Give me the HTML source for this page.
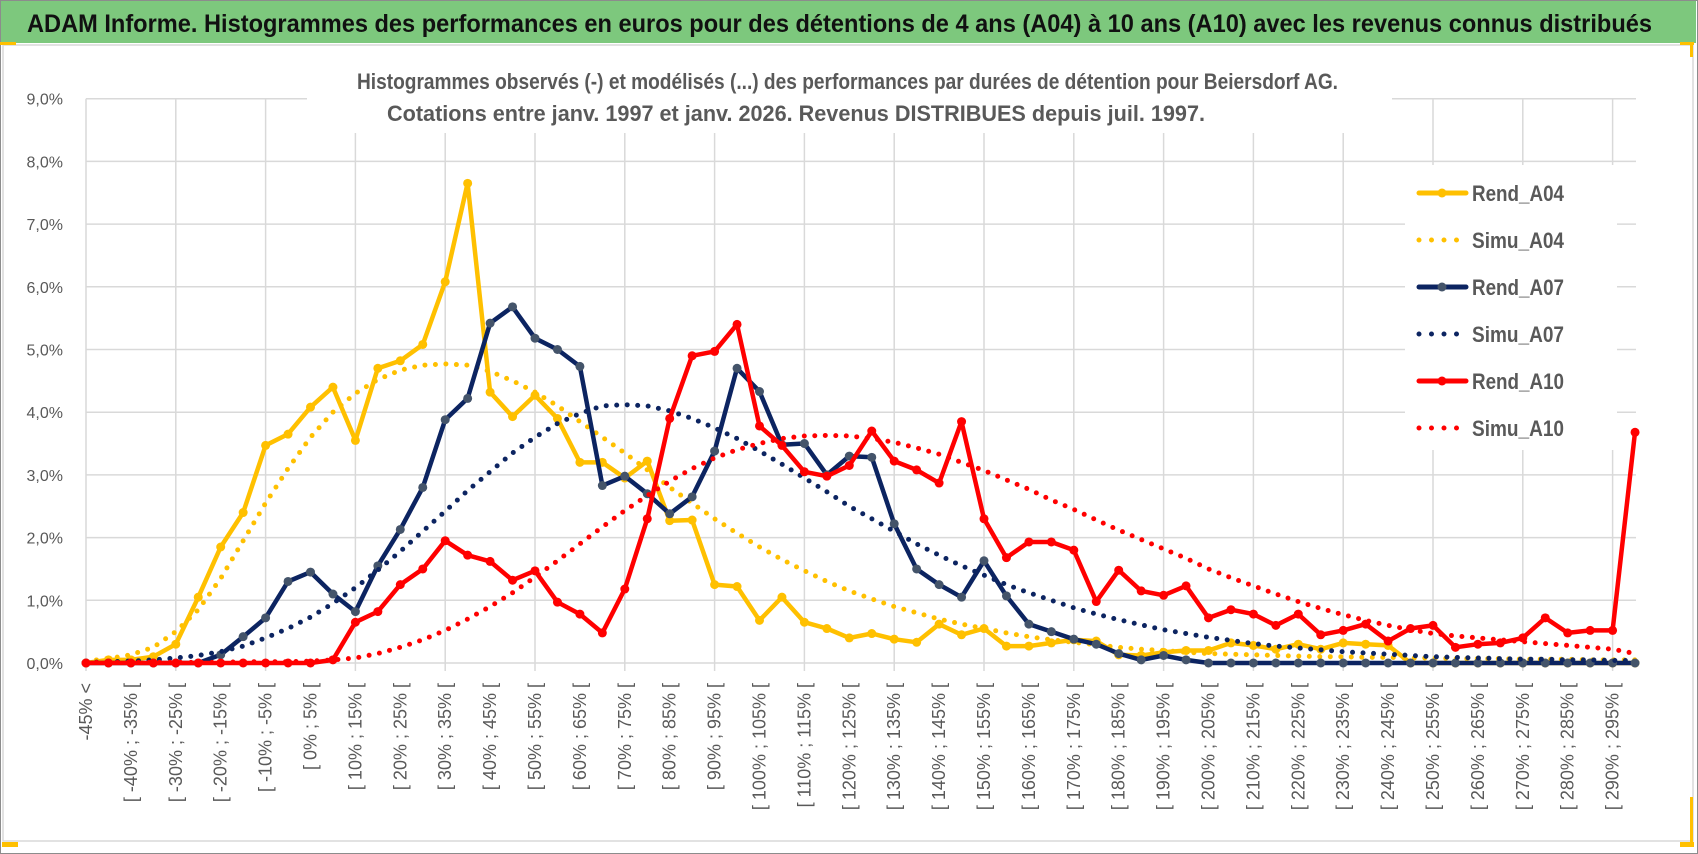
<!DOCTYPE html>
<html><head><meta charset="utf-8"><style>
html,body{margin:0;padding:0;background:#fff;}
svg{display:block;font-family:"Liberation Sans",sans-serif;}
</style></head><body>
<svg id="chart" width="1698" height="854" viewBox="0 0 1698 854" xmlns="http://www.w3.org/2000/svg">
<rect x="0.5" y="0.5" width="1697" height="853" fill="#fff" stroke="#8c8c8c"/>
<rect x="1" y="1" width="1695" height="42" fill="#7dc87d"/>
<text x="27" y="32" font-size="25" font-weight="bold" fill="#111" textLength="1625" lengthAdjust="spacingAndGlyphs">ADAM Informe. Histogrammes des performances en euros pour des détentions de 4 ans (A04) à 10 ans (A10) avec les revenus connus distribués</text>
<rect x="3" y="45" width="1690" height="796" fill="none" stroke="#d9d9d9" stroke-width="1.5"/>
<rect x="0" y="42" width="16" height="3" fill="#ffc000"/>
<rect x="1680" y="42" width="14" height="3" fill="#ffc000"/>
<rect x="1690" y="45" width="3" height="12" fill="#ffc000"/>
<rect x="1690" y="797" width="3" height="50" fill="#ffc000"/>
<rect x="1680" y="842" width="14" height="5" fill="#ffc000"/>
<rect x="2" y="842" width="16" height="5" fill="#ffc000"/>
<g id="grid"></g>
<g id="series"></g>
<g id="axes"></g>
<rect x="307" y="58" width="1085" height="75" fill="#fff"/>
<text x="357" y="89" font-size="22" font-weight="bold" fill="#595959" textLength="981" lengthAdjust="spacingAndGlyphs">Histogrammes observés (-) et modélisés (...) des performances par durées de détention pour Beiersdorf AG.</text>
<text x="387" y="121" font-size="22" font-weight="bold" fill="#595959" textLength="818" lengthAdjust="spacingAndGlyphs">Cotations entre janv. 1997 et janv. 2026. Revenus DISTRIBUES depuis juil. 1997.</text>
<g id="legend"></g>
</svg>
<script>
const categoriesCount = 70;
const yTicks = ["0,0%","1,0%","2,0%","3,0%","4,0%","5,0%","6,0%","7,0%","8,0%","9,0%"];
const rendA04 = [0,0.05,0.05,0.1,0.3,1.05,1.85,2.4,3.47,3.65,4.08,4.4,3.55,4.7,4.82,5.08,6.08,7.65,4.32,3.93,4.27,3.9,3.2,3.2,2.95,3.22,2.27,2.28,1.25,1.22,0.68,1.05,0.65,0.55,0.4,0.47,0.38,0.33,0.62,0.45,0.55,0.27,0.27,0.32,0.37,0.35,0.13,0.12,0.17,0.2,0.2,0.32,0.28,0.22,0.3,0.22,0.32,0.3,0.28,0,0,0,0,0,0,0,0,0,0,0];
const simuA04 = [0.03,0.07,0.13,0.25,0.5,0.85,1.35,1.95,2.55,3.1,3.6,4.0,4.3,4.52,4.67,4.75,4.77,4.75,4.65,4.5,4.32,4.1,3.85,3.6,3.35,3.08,2.8,2.55,2.3,2.07,1.85,1.65,1.47,1.3,1.15,1.02,0.9,0.8,0.7,0.62,0.55,0.48,0.42,0.37,0.33,0.29,0.25,0.22,0.2,0.17,0.15,0.14,0.13,0.12,0.11,0.1,0.1,0.09,0.09,0.08,0.08,0.07,0.07,0.07,0.06,0.06,0.06,0.05,0.05,0.05];
const rendA07 = [0,0,0,0,0,0,0.13,0.42,0.72,1.3,1.45,1.1,0.82,1.55,2.13,2.8,3.88,4.22,5.42,5.68,5.18,5.0,4.73,2.83,2.98,2.7,2.38,2.65,3.38,4.7,4.33,3.48,3.5,3.0,3.3,3.28,2.22,1.5,1.25,1.05,1.63,1.07,0.62,0.5,0.38,0.3,0.15,0.05,0.12,0.05,0,0,0,0,0,0,0,0,0,0,0,0,0,0,0,0,0,0,0,0];
const simuA07 = [0.01,0.02,0.03,0.05,0.08,0.12,0.18,0.27,0.4,0.55,0.73,0.95,1.2,1.48,1.78,2.1,2.42,2.75,3.05,3.35,3.6,3.82,3.98,4.1,4.12,4.1,4.02,3.9,3.75,3.58,3.38,3.17,2.95,2.73,2.5,2.3,2.1,1.9,1.72,1.55,1.4,1.25,1.12,1.0,0.88,0.78,0.69,0.61,0.53,0.47,0.41,0.36,0.31,0.27,0.24,0.21,0.18,0.16,0.14,0.12,0.1,0.09,0.08,0.07,0.06,0.06,0.05,0.05,0.04,0.04];
const rendA10 = [0,0,0,0,0,0,0,0,0,0,0,0.05,0.65,0.82,1.25,1.5,1.95,1.72,1.62,1.32,1.47,0.97,0.78,0.48,1.18,2.3,3.9,4.9,4.97,5.4,3.78,3.47,3.05,2.98,3.15,3.7,3.22,3.08,2.87,3.85,2.3,1.68,1.93,1.93,1.8,0.98,1.48,1.15,1.08,1.23,0.72,0.85,0.78,0.6,0.78,0.45,0.52,0.62,0.35,0.55,0.6,0.25,0.3,0.32,0.4,0.72,0.48,0.52,0.52,3.68];
const simuA10 = [0.01,0.01,0.01,0.01,0.01,0.01,0.01,0.02,0.02,0.02,0.03,0.05,0.08,0.15,0.25,0.37,0.52,0.7,0.9,1.12,1.37,1.63,1.9,2.17,2.43,2.67,2.9,3.1,3.27,3.4,3.5,3.58,3.62,3.63,3.62,3.58,3.52,3.43,3.33,3.2,3.07,2.92,2.77,2.6,2.45,2.28,2.12,1.97,1.82,1.67,1.5,1.36,1.23,1.1,0.98,0.87,0.77,0.68,0.6,0.53,0.47,0.43,0.4,0.37,0.34,0.31,0.28,0.25,0.22,0.15];

const NS = "http://www.w3.org/2000/svg";
const X0 = 86, DX = 22.45, Y0 = 663, DY = 62.7, XR = 1636;
function xs(i){ return X0 + i*DX; }
function ys(v){ return Y0 - v*DY; }
function mk(tag, attrs, parent){ const e=document.createElementNS(NS,tag); for(const k in attrs) e.setAttribute(k,attrs[k]); parent.appendChild(e); return e; }
function catLabel(i){ if(i===0) return "-45% <"; const a=-50+5*i; return "[ "+a+"% ; "+(a+5)+"% ["; }

const grid=document.getElementById('grid'), axes=document.getElementById('axes'), ser=document.getElementById('series'), leg=document.getElementById('legend');
for(let t=0;t<yTicks.length;t++){
  const l=mk('line',{x1:X0,x2:XR,y1:ys(t),y2:ys(t),stroke:'#d9d9d9','stroke-width':1.5},grid);
  
  
  const tx=mk('text',{x:63,y:ys(t)+6,'text-anchor':'end','font-size':16,fill:'#595959'},axes);
  tx.textContent=yTicks[t];
  
  
}
for(let i=0;i<categoriesCount;i+=4){
  const l=mk('line',{x1:xs(i),x2:xs(i),y1:ys(9),y2:Y0+8,stroke:'#d9d9d9','stroke-width':1.5},grid);
  
  
}
for(let i=0;i<categoriesCount;i+=2){
  const xx=xs(i)+6, yy=683;
  const tx=mk('text',{x:xx,y:yy,'text-anchor':'end','font-size':18,fill:'#595959',transform:'rotate(-90 '+xx+' '+yy+')'},axes);
  tx.textContent=catLabel(i);
  
  
}
function pts(arr){ return arr.map((v,i)=>xs(i).toFixed(1)+','+ys(v).toFixed(1)).join(' '); }
function solid(arr,color,mcolor,name){
  const g=mk('g',{},ser);
  
  
  mk('polyline',{points:pts(arr),fill:'none',stroke:color,'stroke-width':4.5,'stroke-linejoin':'round'},g);
  arr.forEach((v,i)=>{
    const c=mk('circle',{cx:xs(i),cy:ys(v),r:4.5,fill:mcolor},g);
    
    
  });
}
function dotted(arr,color,name){
  const p=mk('polyline',{points:pts(arr),fill:'none',stroke:color,'stroke-width':5,'stroke-linecap':'round','stroke-dasharray':'0 10.5'},ser);
  
  
}
solid(rendA04,'#ffc000','#ffc000','rend-a04-line');
dotted(simuA04,'#ffc000','simu-a04-line');
solid(rendA07,'#0c2461','#44546a','rend-a07-line');
dotted(simuA07,'#0c2461','simu-a07-line');
solid(rendA10,'#ff0000','#ff0000','rend-a10-line');
dotted(simuA10,'#ff0000','simu-a10-line');

mk('rect',{x:1405,y:165,width:212,height:285,fill:'#fff'},leg);
const legItems=[["Rend_A04",'#ffc000','#ffc000',1],["Simu_A04",'#ffc000',null,0],["Rend_A07",'#0c2461','#44546a',1],["Simu_A07",'#0c2461',null,0],["Rend_A10",'#ff0000','#ff0000',1],["Simu_A10",'#ff0000',null,0]];
legItems.forEach((it,k)=>{
  const cy=193+k*47;
  const g=mk('g',{},leg);
  
  
  if(it[3]){
    mk('line',{x1:1419,x2:1466,y1:cy,y2:cy,stroke:it[1],'stroke-width':5,'stroke-linecap':'round'},g);
    mk('circle',{cx:1442,cy:cy,r:4.5,fill:it[2]},g);
  } else {
    mk('line',{x1:1419,x2:1466,y1:cy,y2:cy,stroke:it[1],'stroke-width':5,'stroke-linecap':'round','stroke-dasharray':'0 12.5'},g);
  }
  const t=mk('text',{x:1472,y:cy+8,'font-size':22,'font-weight':'bold',fill:'#595959',textLength:92,lengthAdjust:'spacingAndGlyphs'},g);
  t.textContent=it[0];
});
</script>
</body></html>
